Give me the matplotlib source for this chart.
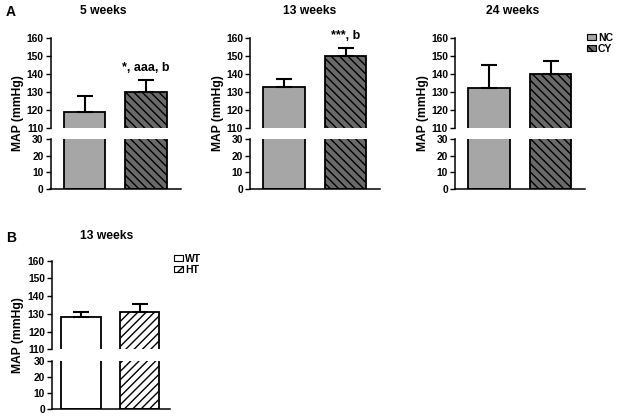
import matplotlib
matplotlib.use("Agg")
import matplotlib.pyplot as plt
from matplotlib.patches import Patch

plt.rcParams['font.family'] = ['Liberation Sans', 'DejaVu Sans']
plt.rcParams['font.weight'] = 'bold'
plt.rcParams['hatch.linewidth'] = 1.0

# ---- data ----
weeks_A = ['5 weeks', '13 weeks', '24 weeks']
groups_A = ['NC', 'CY']
map_nc = [119, 133, 132]
sem_nc = [9, 4, 13]
map_cy = [130, 150, 140]
sem_cy = [6.5, 4.5, 7.5]
annot_A = ['*, aaa, b', '***, b', '']

weeks_B = ['13 weeks']
groups_B = ['WT', 'HT']
map_B = [128, 131]
sem_B = [3, 4.5]

top_ticks = [110, 120, 130, 140, 150, 160]
bot_ticks = [0, 10, 20, 30]

W, H = 618, 419
fig = plt.figure(figsize=(W / 100, H / 100), dpi=100)


def ax_at(x0, x1, y0, y1):
    # pixel coords (top-left origin) -> figure fraction
    return fig.add_axes([x0 / W, 1 - y1 / H, (x1 - x0) / W, (y1 - y0) / H])


def panel(xl, xr, yt160, y110, y30, y0, vals, errs, faces, hatches, xlim,
          title, title_x, title_y, ylab_x, annot=''):
    top = ax_at(xl, xr, yt160, y110)
    bot = ax_at(xl, xr, y30, y0)
    for ax, lim, ticks in ((top, (110, 160), top_ticks), (bot, (0, 30), bot_ticks)):
        ax.bar([0, 1], vals, width=0.67, color=faces, edgecolor='black',
               linewidth=1.3, zorder=2)
        for i in range(2):
            ax.patches[i].set_hatch(hatches[i])
        ax.set_ylim(*lim)
        ax.set_xlim(*xlim)
        ax.set_yticks(ticks)
        ax.tick_params(axis='y', direction='out', length=3.5, width=1.0,
                       labelsize=7.4, pad=1.5)
        ax.set_xticks([])
        for s in ('top', 'right'):
            ax.spines[s].set_visible(False)
        ax.spines['left'].set_linewidth(1.1)
        ax.spines['bottom'].set_linewidth(1.1)
        ax.patch.set_alpha(0)
        for lbl in ax.get_yticklabels():
            lbl.set_fontweight('bold')
    top.spines['bottom'].set_visible(False)
    top.errorbar([0, 1], vals, yerr=[[0, 0], errs], fmt='none', ecolor='black',
                 elinewidth=1.5, capsize=6, capthick=1.5, zorder=3, clip_on=False)
    if annot:
        top.text(1, vals[1] + errs[1] + 3.5, annot, ha='center', va='bottom',
                 fontsize=9, fontweight='bold')
    fig.text(title_x / W, 1 - title_y / H, title, ha='center', va='center',
             fontsize=8.7, fontweight='bold')
    fig.text(ylab_x / W, 1 - ((yt160 + y0) / 2) / H, 'MAP (mmHg)', rotation=90,
             ha='center', va='center', fontsize=8.7, fontweight='bold')
    return top


xlimA = (-0.553, 1.561)
nc_face, cy_face = '#a6a6a6', '#6a6a6a'
pos_A = [(50.5, 180.5, 103, 18), (250, 380, 310, 218), (455, 585, 513, 423)]
for k in range(3):
    xl, xr, tx, yl = pos_A[k]
    panel(xl, xr, 38, 128, 139.3, 189, [map_nc[k], map_cy[k]],
          [sem_nc[k], sem_cy[k]], [nc_face, cy_face], ['', '\\\\\\\\'],
          xlimA, weeks_A[k], tx, 11, yl, annot_A[k])

panel(51.7, 170, 260.7, 349.3, 361, 409.3, map_B, sem_B, ['white', 'white'],
      ['', '////'], (-0.497, 1.515), weeks_B[0], 107, 236, 18)

fig.text(11 / W, 1 - 12 / H, 'A', ha='center', va='center', fontsize=10, fontweight='bold')
fig.text(11 / W, 1 - 238 / H, 'B', ha='center', va='center', fontsize=10, fontweight='bold')

legA = [Patch(facecolor=nc_face, edgecolor='black', linewidth=0.8, label=groups_A[0]),
        Patch(facecolor=cy_face, edgecolor='black', linewidth=0.8, hatch='\\\\\\\\', label=groups_A[1])]
fig.legend(handles=legA, loc='upper left', bbox_to_anchor=(587 / W, 1 - 33 / H),
           frameon=False, handlelength=0.9, handleheight=0.55,
           handletextpad=0.15, labelspacing=0.05, borderpad=0, borderaxespad=0,
           prop={'weight': 'bold', 'size': 7.5})
legB = [Patch(facecolor='white', edgecolor='black', linewidth=0.8, label=groups_B[0]),
        Patch(facecolor='white', edgecolor='black', linewidth=0.8, hatch='////', label=groups_B[1])]
fig.legend(handles=legB, loc='upper left', bbox_to_anchor=(174 / W, 1 - 254 / H),
           frameon=False, handlelength=0.9, handleheight=0.55,
           handletextpad=0.15, labelspacing=0.05, borderpad=0, borderaxespad=0,
           prop={'weight': 'bold', 'size': 7.5})

fig.savefig('out.png', dpi=100)
